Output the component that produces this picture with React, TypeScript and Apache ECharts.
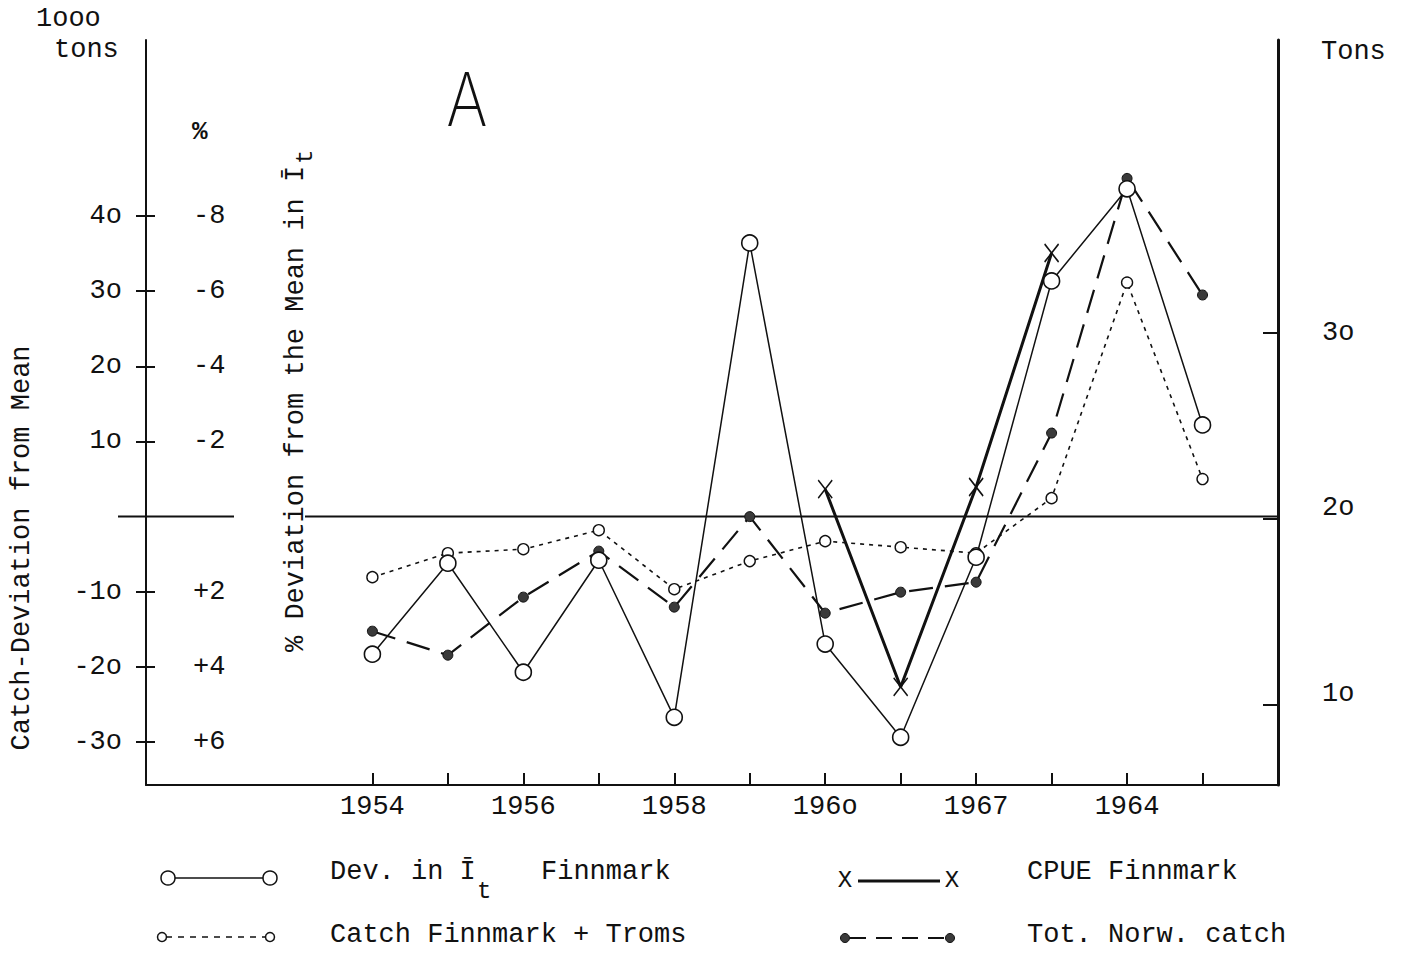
import React, { useEffect, useRef } from "react";
import * as echarts from "echarts";

// ---------- data ----------
const years = [1954, 1955, 1956, 1957, 1958, 1959, 1960, 1961, 1962, 1963, 1964, 1965];
// % deviation from the mean in I_t (Finnmark) – plotted on the inverted % scale
const devPct = [3.66, 1.24, 4.14, 1.16, 5.34, -7.28, 3.39, 5.87, 1.08, -6.27, -8.72, -2.44];
// catch deviation from mean, 1000 tons
const catchFinnmarkTroms = [-8.05, -4.86, -4.33, -1.8, -9.65, -5.92, -3.26, -4.06, -4.86, 2.46, 31.14, 5.0];
const totNorwCatch = [-15.24, -18.43, -10.71, -4.59, -12.04, 0, -12.84, -10.05, -8.72, 11.11, 44.99, 29.48];
// CPUE Finnmark, tons
const cpueYears = [1960, 1961, 1962, 1963];
const cpueTons = [21.6, 10.97, 21.72, 34.3];

// tick labels (typewriter style of the original)
const catchTicks = [-30, -20, -10, 10, 20, 30, 40];
const catchTickLabels = ["-3o", "-2o", "-1o", "1o", "2o", "3o", "4o"];
const pctTicks = [6, 4, 2, -2, -4, -6, -8];
const pctTickLabels = ["+6", "+4", "+2", "-2", "-4", "-6", "-8"];
const tonTicks = [10, 20, 30];
const tonTickLabels = ["1o", "2o", "3o"];
const yearTicks = years;
const yearLabelValues = [1954, 1956, 1958, 1960, 1962, 1964];
const yearLabels = ["1954", "1956", "1958", "196o", "1967", "1964"];

const legendNames = ["Dev. in Ī", "CPUE Finnmark", "Catch Finnmark + Troms", "Tot. Norw. catch"];

// ---------- layout ----------
const W = 1409;
const H = 953;
const MONO = '"Liberation Mono", "DejaVu Sans Mono", monospace';
const FS = 27;
const INK = "#111";

const CATCH_MIN = -35.7;
const CATCH_MAX = 63.4;
const TON_MIN = 5.7;
const TON_MAX = 45.75;

export default function App() {
  const ref = useRef<HTMLDivElement>(null);

  useEffect(() => {
    document.body.style.margin = "0";
    const el = ref.current!;
    const chart = echarts.init(el, null, { renderer: "svg", width: W, height: H });

    const labelStyle = { fontFamily: MONO, fontSize: FS, color: INK };

    const option: any = {
      animation: false,
      backgroundColor: "#fff",
      grid: { left: 146, right: W - 1278, top: 40, bottom: H - 785, containLabel: false },
      xAxis: {
        type: "value",
        min: 1951,
        max: 1966,
        axisLine: { show: true, onZero: false, lineStyle: { color: INK, width: 2 } },
        axisTick: { show: true, inside: true, length: 12, customValues: yearTicks, lineStyle: { color: INK, width: 2 } },
        axisLabel: {
          ...labelStyle,
          margin: 8,
          customValues: yearLabelValues,
          formatter: (v: number) => yearLabels[yearLabelValues.indexOf(Math.round(v))] ?? "",
        },
        splitLine: { show: false },
      },
      yAxis: [
        {
          // catch deviation from mean, 1000 tons
          type: "value",
          position: "left",
          min: CATCH_MIN,
          max: CATCH_MAX,
          axisLine: { show: true, onZero: false, lineStyle: { color: INK, width: 2 } },
          axisTick: { show: true, length: 10, customValues: catchTicks, lineStyle: { color: INK, width: 2 } },
          axisLabel: {
            ...labelStyle,
            margin: 24,
            customValues: catchTicks,
            formatter: (v: number) => catchTickLabels[catchTicks.indexOf(Math.round(v))] ?? "",
          },
          splitLine: { show: false },
        },
        {
          // % deviation from the mean in I_t (inverted)
          type: "value",
          position: "left",
          inverse: true,
          min: -CATCH_MAX / 5,
          max: -CATCH_MIN / 5,
          axisLine: { show: false, onZero: false },
          axisTick: { show: true, inside: true, length: 9, customValues: pctTicks, lineStyle: { color: INK, width: 2 } },
          axisLabel: {
            ...labelStyle,
            inside: true,
            margin: 47,
            customValues: pctTicks,
            formatter: (v: number) => pctTickLabels[pctTicks.indexOf(Math.round(v))] ?? "",
          },
          splitLine: { show: false },
        },
        {
          // CPUE tons
          type: "value",
          position: "right",
          min: TON_MIN,
          max: TON_MAX,
          axisLine: { show: true, onZero: false, lineStyle: { color: INK, width: 3 } },
          axisTick: { show: true, inside: true, length: 15, customValues: tonTicks, lineStyle: { color: INK, width: 2 } },
          axisLabel: {
            ...labelStyle,
            margin: 44,
            customValues: tonTicks,
            formatter: (v: number) => {
              const s = tonTickLabels[tonTicks.indexOf(Math.round(v))] ?? "";
              return Math.round(v) === 30 ? s : `{up|${s}}`;
            },
            rich: { up: { fontFamily: MONO, fontSize: FS, color: INK, padding: [0, 0, 22, 0] } },
          },
          splitLine: { show: false },
        },
      ],
      series: [
        {
          name: legendNames[1],
          type: "line",
          yAxisIndex: 2,
          data: cpueYears.map((y, i) => [y, cpueTons[i]]),
          symbol: "path://M0,0L10,13M10,0L0,13",
          symbolSize: [14, 18],
          itemStyle: { color: "rgba(0,0,0,0)", borderColor: INK, borderWidth: 1.6 },
          lineStyle: { color: INK, width: 3 },
          silent: true,
          z: 2,
        },
        {
          name: legendNames[3],
          type: "line",
          yAxisIndex: 0,
          data: years.map((y, i) => [y, totNorwCatch[i]]),
          symbol: "circle",
          symbolSize: 10,
          itemStyle: { color: "#3a3a3a", borderColor: INK, borderWidth: 1 },
          lineStyle: { color: INK, width: 2.2, type: [24, 12] },
          silent: true,
          z: 3,
        },
        {
          name: legendNames[2],
          type: "line",
          yAxisIndex: 0,
          data: years.map((y, i) => [y, catchFinnmarkTroms[i]]),
          symbol: "circle",
          symbolSize: 11,
          itemStyle: { color: "#fff", borderColor: INK, borderWidth: 1.4 },
          lineStyle: { color: INK, width: 1.6, type: [4, 5] },
          silent: true,
          z: 4,
        },
        {
          name: legendNames[0],
          type: "line",
          yAxisIndex: 1,
          data: years.map((y, i) => [y, devPct[i]]),
          symbol: "circle",
          symbolSize: 16,
          itemStyle: { color: "#fff", borderColor: INK, borderWidth: 1.6 },
          lineStyle: { color: INK, width: 1.5 },
          silent: true,
          z: 5,
        },
      ],
    };

    chart.setOption(option);

    const xL = chart.convertToPixel({ xAxisIndex: 0 }, 1951) as number;
    const xR = chart.convertToPixel({ xAxisIndex: 0 }, 1966) as number;
    const y0 = chart.convertToPixel({ yAxisIndex: 0 }, 0) as number;

    const txt = (text: string, x: number, y: number, extra: any = {}, elExtra: any = {}) => ({
      type: "text",
      x,
      y,
      silent: true,
      ...elExtra,
      style: {
        text,
        fontFamily: MONO,
        fontSize: FS,
        fill: INK,
        align: "left",
        verticalAlign: "middle",
        ...extra,
      },
    });
    const ln = (x1: number, y1: number, x2: number, y2: number, style: any = {}) => ({
      type: "line",
      silent: true,
      shape: { x1, y1, x2, y2 },
      style: { stroke: INK, lineWidth: 1.6, ...style },
    });
    const circ = (cx: number, cy: number, r: number, style: any = {}) => ({
      type: "circle",
      silent: true,
      z: 10,
      shape: { cx, cy, r },
      style: { stroke: INK, lineWidth: 1.5, fill: "#fff", ...style },
    });

    const graphic: any[] = [
      // zero line (two pieces, interrupted by the vertical label)
      ln(xL - 28, y0, xL + 88, y0, { lineWidth: 2 }),
      ln(xL + 159, y0, xR, y0, { lineWidth: 2 }),
      // unit labels
      txt("1ooo", 36, 19),
      txt("tons", 54, 50),
      txt("Tons", 1321, 52),
      txt("%", 192, 132, { fontWeight: "bold", fontSize: 26 }),
      // panel letter
      txt("A", 0, 0, { fontFamily: "Inter, 'Open Sans', sans-serif", fontWeight: 200, fontSize: 74, align: "center" }, { x: 467, y: 99, scaleX: 0.85 }),
      // axis titles (vertical)
      txt("Catch-Deviation from Mean", 22, 548, { align: "center" }, { rotation: Math.PI / 2 }),
      txt("% Deviation from the Mean in Ī", 296, 652, { align: "left" }, { rotation: Math.PI / 2 }),
      txt("t", 305, 164, { align: "left", fontSize: 24 }, { rotation: Math.PI / 2 }),
      // legend row 1
      ln(174, 878, 263, 878, { lineWidth: 1.6 }),
      circ(168, 878, 7),
      circ(270, 878, 7),
      txt("Dev. in Ī", 330, 872),
      txt("t", 477, 891, { fontSize: 24 }),
      txt("Finnmark", 541, 872),
      txt("X", 845, 880, { align: "center", fontSize: 24 }),
      ln(858, 881, 940, 881, { lineWidth: 3 }),
      txt("X", 952, 880, { align: "center", fontSize: 24 }),
      txt(legendNames[1], 1027, 872),
      // legend row 2
      ln(166, 937, 265, 937, { lineWidth: 1.6, lineDash: [6, 6] }),
      circ(162, 937, 4.5),
      circ(270, 937, 4.5),
      txt(legendNames[2], 330, 935),
      ln(850, 938, 945, 938, { lineWidth: 2.2, lineDash: [16, 10] }),
      circ(845, 938, 4.5, { fill: "#3a3a3a", lineWidth: 1 }),
      circ(950, 938, 4.5, { fill: "#3a3a3a", lineWidth: 1 }),
      txt(legendNames[3], 1027, 935),
    ];

    chart.setOption({ graphic });

    return () => {
      chart.dispose();
    };
  }, []);

  return <div ref={ref} style={{ width: W, height: H, background: "#fff" }} />;
}
